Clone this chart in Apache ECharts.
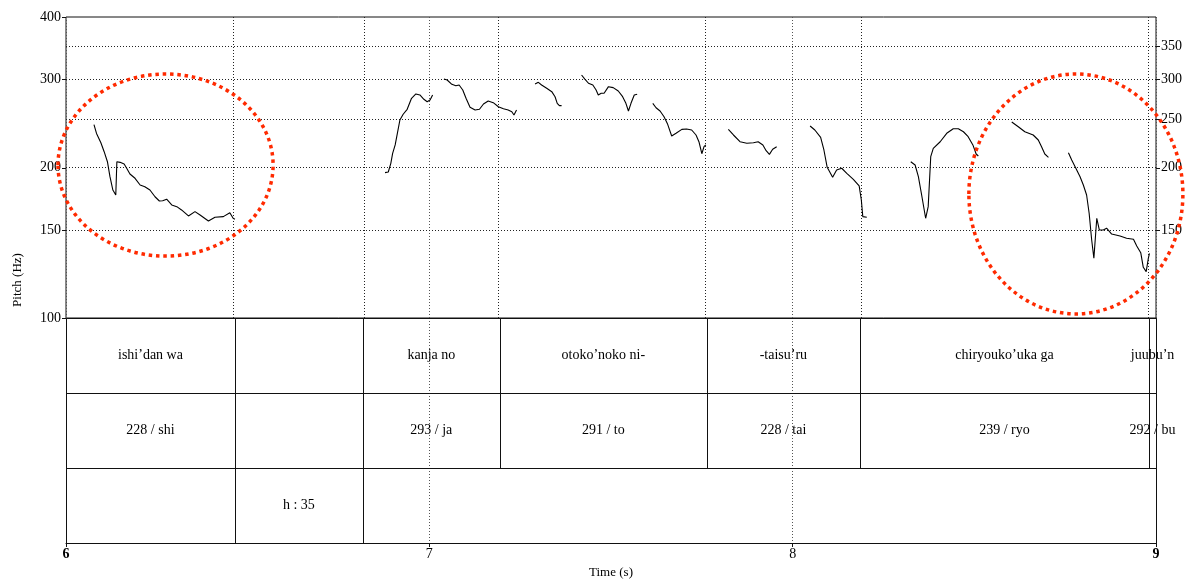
<!DOCTYPE html>
<html>
<head>
<meta charset="utf-8">
<script src="https://cdn.jsdelivr.net/npm/echarts@6/dist/echarts.min.js"></script>
<style>
html,body{margin:0;padding:0;background:#fff;}
#main{width:1190px;height:584px;}
</style>
</head>
<body>
<div id="main"></div>
<script>
// ---- Pitch contour (voiced stretches): times (s) and F0 (Hz)
const pitchTimes = [
  [6.077,6.084,6.096,6.105,6.114,6.121,6.129,6.137,6.140,6.149,6.160,6.167,6.176,6.190,6.204,6.217,6.231,6.245,6.257,6.266,6.277,6.291,6.305,6.318,6.337,6.355,6.369,6.392,6.410,6.433,6.451,6.460,6.465],
  [6.878,6.887,6.894,6.899,6.906,6.912,6.919,6.928,6.939,6.951,6.963,6.974,6.985,6.994,7.002,7.009],
  [7.040,7.049,7.062,7.073,7.082,7.092,7.101,7.112,7.126,7.138,7.149,7.162,7.176,7.190,7.204,7.217,7.227,7.233,7.240],
  [7.291,7.300,7.309,7.323,7.337,7.346,7.352,7.358,7.364],
  [7.419,7.428,7.438,7.450,7.459,7.465,7.473,7.481,7.493,7.506,7.520,7.532,7.541,7.548,7.555,7.564,7.572],
  [7.615,7.624,7.635,7.646,7.656,7.667,7.679,7.695,7.708,7.722,7.734,7.742,7.750,7.756,7.761],
  [7.823,7.837,7.855,7.874,7.892,7.905,7.918,7.927,7.936,7.945,7.956],
  [8.048,8.061,8.077,8.086,8.095,8.110,8.121,8.135,8.149,8.167,8.183,8.189,8.193,8.204],
  [8.325,8.337,8.346,8.355,8.366,8.373,8.380,8.387,8.406,8.424,8.442,8.456,8.470,8.483,8.496,8.505,8.511],
  [8.603,8.621,8.639,8.662,8.676,8.685,8.694,8.704],
  [8.759,8.768,8.777,8.791,8.800,8.809,8.816,8.823,8.829,8.837,8.844,8.855,8.864,8.878,8.901,8.919,8.938,8.947,8.958,8.965,8.973,8.979,8.982]
];
const pitchHz = [
  [243.6,234.0,224.2,215.1,205.4,191.7,180.3,176.2,205.4,204.8,203.3,199.3,194.1,190.3,184.5,183.1,180.3,174.8,171.4,171.6,172.8,168.3,167.0,164.5,160.0,163.2,160.7,156.3,159.0,159.5,162.4,158.3,157.6],
  [195.3,195.9,203.9,213.5,221.9,234.1,248.9,255.6,261.5,275.1,280.6,279.3,273.8,270.8,272.9,279.3],
  [300.6,299.3,293.4,291.5,292.4,285.8,275.1,263.9,260.6,261.5,267.9,271.7,269.6,264.6,262.2,260.6,258.6,254.7,260.6],
  [293.8,296.1,292.4,288.0,283.6,277.1,268.8,265.9,265.9],
  [306.2,300.6,294.8,292.4,285.8,279.3,281.5,281.5,290.2,288.9,284.5,277.1,268.8,259.4,268.8,279.3,280.2],
  [268.8,263.4,259.4,252.7,244.0,231.2,234.1,238.4,238.8,237.7,232.3,225.2,213.1,220.1,221.9],
  [238.4,232.3,225.2,223.6,224.2,225.2,221.9,216.1,212.5,217.5,220.1],
  [242.1,237.7,229.8,216.8,200.2,191.2,197.7,199.3,194.7,189.4,183.7,172.2,159.5,159.0],
  [205.4,202.3,191.7,176.2,158.3,167.0,210.2,218.5,225.2,234.1,239.1,239.1,235.8,230.5,221.9,212.8,210.9],
  [246.6,241.3,235.8,232.3,227.0,220.1,212.8,209.6],
  [214.1,207.0,201.0,191.7,184.5,176.2,162.0,143.2,131.7,158.3,150.0,150.0,151.2,147.2,145.9,144.4,143.7,139.3,135.1,126.3,123.8,131.7,134.7]
];

// ---- Axis ticks
const timeRange = [6, 9];
const pitchRange = [100, 400];
const leftHzLabels = [100, 150, 200, 300, 400];
const rightHzLabels = [150, 200, 250, 300, 350];
const hzGridLines = [150, 200, 250, 300, 350];

// ---- TextGrid tiers
const tier1Bounds = [6, 6.465, 6.817, 7.194, 7.764, 8.185, 8.981, 9];
const tier1Labels = ['ishi\u2019dan wa', '', 'kanja no', 'otoko\u2019noko ni-', '-taisu\u2019ru', 'chiryouko\u2019uka ga', 'juubu\u2019n'];
const tier2Bounds = [6, 6.465, 6.817, 7.194, 7.764, 8.185, 8.981, 9];
const tier2Labels = ['228 / shi', '', '293 / ja', '291 / to', '228 / tai', '239 / ryo', '292 / bu'];
const tier3Bounds = [6, 6.465, 6.817, 9];
const tier3Labels = ['', 'h : 35', ''];

// ---- Annotation ellipses (time span, Hz span)
const ellipseTimes = [[5.978, 6.570], [8.485, 9.074]];
const ellipseHz = [[307.6, 133.0], [307.6, 101.9]];

const SERIF = '"Liberation Serif", "Times New Roman", serif';

// build interval data
const intervals = [];
const intervalLabels = [];
[[tier1Bounds, tier1Labels], [tier2Bounds, tier2Labels], [tier3Bounds, tier3Labels]].forEach(function (t, k) {
  const b = t[0], l = t[1];
  for (let i = 0; i < l.length; i++) {
    intervals.push([b[i], b[i + 1], k]);
    intervalLabels.push(l[i]);
  }
});
const boundaryTimes = tier1Bounds.slice(1, -1);

const chart = echarts.init(document.getElementById('main'), null, {renderer: 'canvas'});

const markData = [];
hzGridLines.forEach(function (v) {
  markData.push({yAxis: v, lineStyle: {type: [1, 2], color: '#222', width: 1}, label: {show: false}});
});
rightHzLabels.forEach(function (v) {
  markData.push({yAxis: v, lineStyle: {color: 'rgba(0,0,0,0)', width: 1}, label: {show: true, position: 'end', distance: 5, formatter: String(v)}});
});
leftHzLabels.forEach(function (v) {
  markData.push({yAxis: v, lineStyle: {color: 'rgba(0,0,0,0)', width: 1}, label: {show: true, position: 'start', distance: 5, formatter: String(v)}});
});
boundaryTimes.forEach(function (b) {
  markData.push({xAxis: b, lineStyle: {type: [1, 2], color: '#222', width: 1}, label: {show: false}});
});

const seriesList = pitchTimes.map(function (ts, i) {
  const s = {
    type: 'line',
    xAxisIndex: 0, yAxisIndex: 0,
    data: ts.map(function (t, j) { return [t, pitchHz[i][j]]; }),
    symbol: 'none',
    lineStyle: {color: '#000', width: 1.1},
    animation: false,
    z: 5
  };
  if (i === 0) {
    s.markLine = {
      silent: true, symbol: ['none', 'none'], animation: false,
      label: {color: '#000', fontFamily: SERIF, fontSize: 14},
      data: markData
    };
  }
  return s;
});

seriesList.push({
  type: 'custom',
  xAxisIndex: 1, yAxisIndex: 1,
  clip: false,
  animation: false,
  encode: {x: [0, 1], y: 2},
  data: intervals,
  renderItem: function (params, api) {
    const s = api.value(0), e = api.value(1), k = api.value(2);
    const p0 = api.coord([s, k]);
    const p1 = api.coord([e, k + 1]);
    const label = intervalLabels[params.dataIndex];
    return {
      type: 'group',
      children: [
        {type: 'rect', shape: {x: Math.round(p0[0]) + 0.5, y: Math.round(p0[1]) + 0.5, width: Math.round(p1[0]) - Math.round(p0[0]), height: Math.round(p1[1]) - Math.round(p0[1])},
         style: {fill: 'none', stroke: '#111', lineWidth: 1}},
        {type: 'text', x: (p0[0] + p1[0]) / 2, y: (p0[1] + p1[1]) / 2,
         style: {text: label, align: 'center', verticalAlign: 'middle', fill: '#000', font: '14px ' + SERIF}}
      ]
    };
  }
});

chart.setOption({
  backgroundColor: '#fff',
  animation: false,
  grid: [
    {left: 66, right: 34, top: 17, height: 301, show: true, borderColor: '#111', borderWidth: 1, backgroundColor: 'transparent'},
    {left: 66, right: 34, top: 318, height: 225, show: false}
  ],
  xAxis: [
    {type: 'value', gridIndex: 0, min: timeRange[0], max: timeRange[1], interval: 1,
     axisLine: {show: false}, axisTick: {show: false}, axisLabel: {show: false},
     splitLine: {show: true, lineStyle: {type: [1, 2], color: '#555', width: 1}}},
    {type: 'value', gridIndex: 1, min: timeRange[0], max: timeRange[1], interval: 1,
     axisLine: {show: true, onZero: false, lineStyle: {color: '#111', width: 1}},
     axisTick: {show: true, length: 4, lineStyle: {color: '#111'}},
     axisLabel: {margin: 4, color: '#000', fontFamily: SERIF, fontSize: 14,
       formatter: function (v) { return (v === timeRange[0] || v === timeRange[1]) ? '{b|' + v + '}' : String(v); },
       rich: {b: {fontWeight: 'bold', fontFamily: SERIF, fontSize: 14, color: '#000'}}},
     splitLine: {show: true, lineStyle: {type: [1, 2], color: '#555', width: 1}},
     name: 'Time (s)', nameLocation: 'middle', nameGap: 23,
     nameTextStyle: {color: '#000', fontFamily: SERIF, fontSize: 13}}
  ],
  yAxis: [
    {type: 'log', logBase: 10, gridIndex: 0, min: pitchRange[0], max: pitchRange[1],
     axisLine: {show: false}, axisTick: {show: false}, axisLabel: {show: false}, splitLine: {show: false}},
    {type: 'value', gridIndex: 1, min: 0, max: 3, inverse: true,
     axisLine: {show: false}, axisTick: {show: false}, axisLabel: {show: false}, splitLine: {show: false}}
  ],
  series: seriesList
});

// annotations: dotted ellipses, small Hz ticks and y-axis title
const graphics = [];
ellipseTimes.forEach(function (ts, i) {
  const a = chart.convertToPixel({gridIndex: 0}, [ts[0], ellipseHz[i][0]]);
  const b = chart.convertToPixel({gridIndex: 0}, [ts[1], ellipseHz[i][1]]);
  graphics.push({
    type: 'ellipse', silent: true, z: 10,
    shape: {cx: (a[0] + b[0]) / 2, cy: (a[1] + b[1]) / 2, rx: Math.abs(b[0] - a[0]) / 2, ry: Math.abs(b[1] - a[1]) / 2},
    style: {fill: 'none', stroke: '#ff2a00', lineWidth: 3.5, lineDash: [3.5, 3.8], lineCap: 'butt'}
  });
});
leftHzLabels.forEach(function (v) {
  const p = chart.convertToPixel({gridIndex: 0}, [timeRange[0], v]);
  const y = Math.round(p[1]) + 0.5;
  graphics.push({type: 'line', silent: true, shape: {x1: p[0] - 4, y1: y, x2: p[0], y2: y}, style: {stroke: '#111', lineWidth: 1}});
});
rightHzLabels.forEach(function (v) {
  const p = chart.convertToPixel({gridIndex: 0}, [timeRange[1], v]);
  const y = Math.round(p[1]) + 0.5;
  graphics.push({type: 'line', silent: true, shape: {x1: p[0], y1: y, x2: p[0] + 4, y2: y}, style: {stroke: '#111', lineWidth: 1}});
});
const plotTopPx = chart.convertToPixel({gridIndex: 0}, [timeRange[0], pitchRange[1]]);
const plotBotPx = chart.convertToPixel({gridIndex: 1}, [timeRange[0], 3]);
graphics.push({
  type: 'text', silent: true, x: 18, y: (plotTopPx[1] + plotBotPx[1]) / 2, rotation: Math.PI / 2,
  style: {text: 'Pitch (Hz)', align: 'center', verticalAlign: 'middle', fill: '#000', font: '13px ' + SERIF}
});
chart.setOption({graphic: graphics});
</script>
</body>
</html>
